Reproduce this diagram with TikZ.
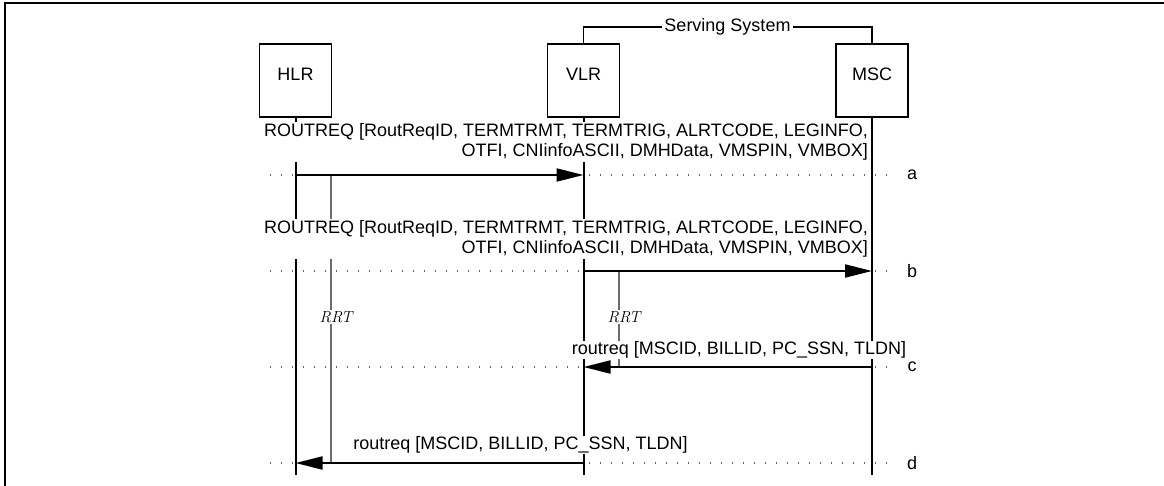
\documentclass[tikz,border=0pt]{standalone}
\usepackage{fontspec}
\newfontfamily\lib{Liberation Sans}
\usetikzlibrary{arrows.meta}
\begin{document}
\begin{tikzpicture}[x=1pt,y=-1pt,
  every node/.style={font=\lib\fontsize{18}{20.5}\selectfont},
  box/.style={draw, line width=1.6pt, minimum width=72pt, minimum height=73pt, inner sep=0pt},
  life/.style={line width=2pt},
  msg/.style={line width=2pt, -{Triangle[length=27pt,width=13pt]}},
  dotline/.style={gray!80!black, line width=1.2pt, dash pattern=on 1.2pt off 9.8pt},
  timer/.style={gray!85!black, line width=1.5pt},
  lbl/.style={fill=white, inner sep=1pt, align=right},
  rrt/.style={fill=white, inner sep=1pt, font=\rmfamily\itshape\fontsize{16}{18}\selectfont},
  bracket/.style={line width=1.3pt}
]
\useasboundingbox (0,0) rectangle (1164,485);
% frame
\draw[line width=2pt] (5,490) -- (5,3.3) -- (1170,3.3);

% levels
\coordinate (ss) at (0,27);
\coordinate (ya) at (0,175);
\coordinate (yb) at (0,271);
\coordinate (yc) at (0,367);
\coordinate (yd) at (0,463);
\coordinate (yr) at (0,317);
\coordinate (bot) at (0,475);
\coordinate (dl) at (270,0);
\coordinate (dr) at (895,0);
\coordinate (t1) at (331,0);
\coordinate (t2) at (619,0);

% entities
\node[box] (hlr) at (295.5,80.5) {};
\node (hlrt) at (295.5,74) {HLR};
\node[box] (vlr) at (583.5,80.5) {};
\node (vlrt) at (583.5,74) {VLR};
\node[box] (msc) at (872,80.5) {};
\node (msct) at (872,74) {MSC};

% serving system bracket
\draw[bracket] (vlr.north) -- (vlr.north |- ss) -- (msc.north |- ss) -- (msc.north);
\node[fill=white, inner sep=2pt] (sst) at (727.5,27) {Serving System};

% dotted guide lines
\foreach \y in {ya,yb,yc,yd} \draw[dotline] (dl |- \y) -- (dr |- \y);

% lifelines
\draw[life] (hlr.south) -- (hlr.south |- bot);
\draw[life] (vlr.south) -- (vlr.south |- bot);
\draw[life] (msc.south) -- (msc.south |- bot);

% timers
\draw[timer] (t1 |- ya) -- (t1 |- yd);
\draw[timer] (t2 |- yb) -- (t2 |- yc);
\node[rrt] (rrt1) at ([xshift=5pt]t1 |- yr) {RRT};
\node[rrt] (rrt2) at ([xshift=5pt]t2 |- yr) {RRT};

% message labels
\node[lbl, anchor=east] (m1) at (869,142) {ROUTREQ [RoutReqID, TERMTRMT, TERMTRIG, ALRTCODE, LEGINFO,\\OTFI, CNIinfoASCII, DMHData, VMSPIN, VMBOX]};
\node[lbl, anchor=east] (m2) at (869,239) {ROUTREQ [RoutReqID, TERMTRMT, TERMTRIG, ALRTCODE, LEGINFO,\\OTFI, CNIinfoASCII, DMHData, VMSPIN, VMBOX]};
\node[lbl] (m3) at (739,350) {routreq [MSCID, BILLID, PC\_SSN, TLDN]};
\node[lbl] (m4) at (520.5,445) {routreq [MSCID, BILLID, PC\_SSN, TLDN]};

% messages
\draw[msg] (hlr.south |- ya) -- (vlr.south |- ya);
\draw[msg] (vlr.south |- yb) -- (msc.south |- yb);
\draw[msg] (msc.south |- yc) -- (vlr.south |- yc);
\draw[msg] (vlr.south |- yd) -- (hlr.south |- yd);

% step letters
\node (la) at (912,175) {a};
\node (lb) at (912,271) {b};
\node (lc) at (912,367) {c};
\node (ld) at (912,463) {d};
\end{tikzpicture}
\end{document}
